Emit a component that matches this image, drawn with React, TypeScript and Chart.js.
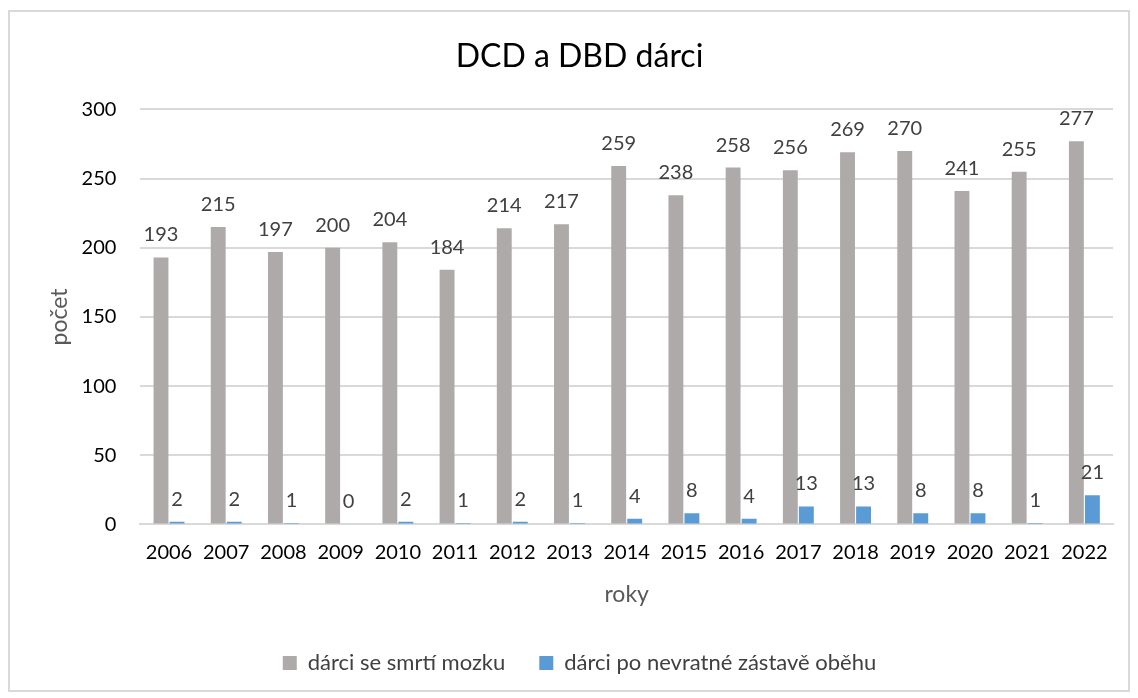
import React, { useEffect, useRef } from "react";
import { Chart, registerables } from "chart.js";

Chart.register(...registerables);

const years = ["2006","2007","2008","2009","2010","2011","2012","2013","2014","2015","2016","2017","2018","2019","2020","2021","2022"];
const brainDeath = [193,215,197,200,204,184,214,217,259,238,258,256,269,270,241,255,277];
const circulatory = [2,2,1,0,2,1,2,1,4,8,4,13,13,8,8,1,21];
const yTicks = [0,50,100,150,200,250,300];

const FONT = "Lato, 'Noto Sans', sans-serif";

const labelPlugin = {
  id: "valueLabels",
  afterDatasetsDraw(chart: any) {
    const ctx = chart.ctx;
    ctx.save();
    ctx.font = `20px ${FONT}`;
    ctx.fillStyle = "#404040";
    ctx.textAlign = "center";
    ctx.textBaseline = "alphabetic";
    chart.data.datasets.forEach((ds: any, i: number) => {
      const meta = chart.getDatasetMeta(i);
      meta.data.forEach((bar: any, j: number) => {
        ctx.fillText(String(ds.data[j]), bar.x, bar.y - 16);
      });
    });
    ctx.restore();
  },
};

export default function App() {
  const ref = useRef<HTMLCanvasElement>(null);
  useEffect(() => {
    if (!ref.current) return;
    const chart = new Chart(ref.current, {
      type: "bar",
      data: {
        labels: years,
        datasets: [
          { label: "dárci se smrtí mozku", data: brainDeath, backgroundColor: "#AEAAAA", categoryPercentage: 0.56, barPercentage: 0.93 },
          { label: "dárci po nevratné zástavě oběhu", data: circulatory, backgroundColor: "#5B9BD5", categoryPercentage: 0.56, barPercentage: 0.93 },
        ],
      },
      options: {
        animation: false,
        responsive: false,
        maintainAspectRatio: false,
        layout: { padding: { left: 36, right: 15, top: 10, bottom: 6 } },
        plugins: {
          title: { display: true, text: "DCD a DBD dárci", font: { family: FONT, size: 32, weight: "normal" }, color: "#000", padding: { top: 15, bottom: 34 } },
          legend: {
            position: "bottom",
            labels: { font: { family: FONT, size: 22 }, color: "#404040", boxWidth: 14, boxHeight: 14, padding: 34 },
          },
          tooltip: { enabled: false },
        },
        scales: {
          x: {
            grid: { display: false, drawTicks: false },
            border: { color: "#d9d9d9", width: 2 },
            ticks: { font: { family: FONT, size: 20 }, color: "#000", padding: 16, maxRotation: 0 },
            title: { display: true, text: "roky", font: { family: FONT, size: 23 }, color: "#595959", padding: { top: 0, bottom: 10 } },
          },
          y: {
            min: 0,
            max: 300,
            afterBuildTicks: (axis: any) => { axis.ticks = yTicks.map((v) => ({ value: v })); },
            grid: { color: "#d9d9d9", lineWidth: 2, drawTicks: false },
            border: { display: false },
            ticks: { font: { family: FONT, size: 20 }, color: "#000", padding: 24 },
            title: { display: true, text: "počet", font: { family: FONT, size: 23 }, color: "#595959", padding: { top: 0, bottom: -16 } },
          },
        },
      },
      plugins: [labelPlugin],
    });
    return () => chart.destroy();
  }, []);
  return (
    <div style={{ width: 1118, height: 678, border: "2px solid #d9d9d9", marginTop: 2, boxSizing: "content-box" }}>
      <canvas ref={ref} width={1118} height={678} />
    </div>
  );
}
